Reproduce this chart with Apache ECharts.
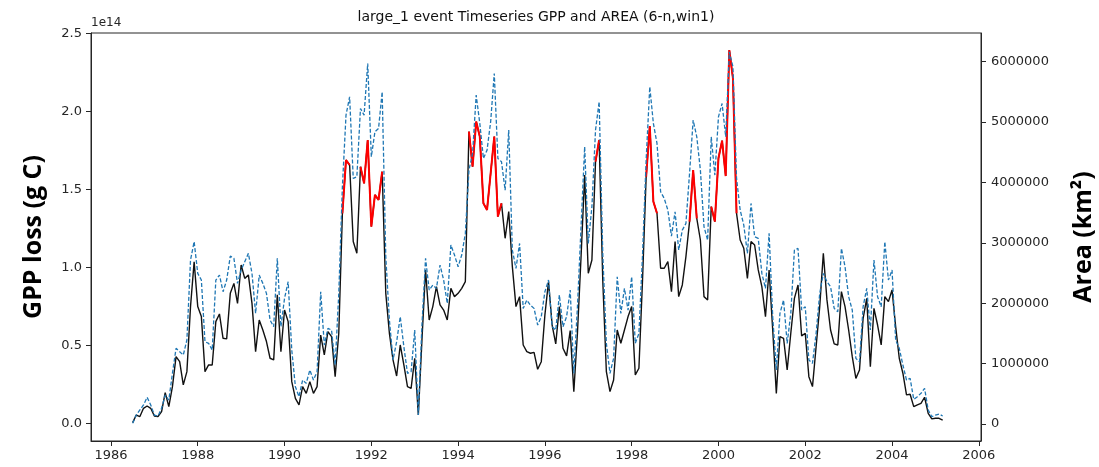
<!DOCTYPE html>
<html>
<head>
<meta charset="utf-8">
<script src="https://cdn.jsdelivr.net/npm/echarts@6/dist/echarts.min.js"></script>
<style>
html,body{margin:0;padding:0;background:#fff;}
#c{width:1099px;height:467px;}
</style>
</head>
<body>
<div id="c"></div>
<script>
// Monthly series starting July 1986 (one value per month)
const startYear = 1986;
const startMonth = 7;

// GPP loss, in units of 1e14 g C
const gpp = [
0.004,0.053,0.043,0.096,0.111,0.096,0.047,0.043,0.075,0.197,0.107,0.235,
0.427,0.395,0.246,0.331,0.748,1.036,0.748,0.684,0.331,0.374,0.374,0.652,
0.701,0.545,0.541,0.833,0.897,0.769,1.015,0.929,0.951,0.769,0.459,0.662,
0.598,0.524,0.417,0.406,0.823,0.459,0.726,0.652,0.267,0.160,0.118,0.235,
0.192,0.267,0.192,0.235,0.566,0.438,0.588,0.556,0.299,0.577,1.346,1.688,
1.656,1.165,1.090,1.645,1.538,1.816,1.261,1.464,1.432,1.613,0.833,0.577,
0.406,0.303,0.502,0.374,0.235,0.224,0.417,0.053,0.534,0.983,0.662,0.748,
0.876,0.759,0.726,0.662,0.865,0.812,0.833,0.865,0.908,1.870,1.645,1.934,
1.838,1.410,1.368,1.603,1.838,1.325,1.410,1.186,1.357,1.004,0.748,0.812,
0.502,0.459,0.449,0.455,0.346,0.395,0.694,0.908,0.630,0.509,0.748,0.481,
0.432,0.594,0.203,0.577,1.068,1.592,0.962,1.047,1.677,1.816,0.919,0.331,
0.203,0.278,0.598,0.513,0.598,0.684,0.748,0.310,0.353,0.919,1.581,1.906,
1.421,1.346,0.994,0.994,1.036,0.844,1.165,0.812,0.887,1.068,1.293,1.624,
1.314,1.175,0.812,0.791,1.389,1.293,1.699,1.812,1.585,2.393,2.212,1.346,
1.175,1.122,0.929,1.165,1.143,0.983,0.876,0.684,0.983,0.598,0.192,0.556,
0.545,0.342,0.577,0.801,0.887,0.560,0.577,0.299,0.235,0.491,0.748,1.090,
0.791,0.598,0.509,0.502,0.844,0.748,0.598,0.427,0.288,0.342,0.673,0.801,
0.363,0.737,0.630,0.502,0.812,0.780,0.855,0.620,0.417,0.321,0.182,0.186,
0.107,0.118,0.128,0.167,0.064,0.028,0.032,0.032,0.021
];

// Area, in units of 1e6 km2
const area = [
0.011,0.149,0.232,0.315,0.442,0.315,0.149,0.132,0.259,0.480,0.397,0.839,
1.253,1.198,1.142,1.391,2.715,3.019,2.494,2.384,1.363,1.336,1.225,2.384,
2.467,2.191,2.384,2.781,2.743,2.329,2.550,2.688,2.826,2.494,1.832,2.467,
2.329,2.163,1.722,1.611,2.743,1.611,2.081,2.357,1.225,0.618,0.453,0.728,
0.673,0.894,0.728,0.866,2.191,1.308,1.584,1.556,0.977,2.163,3.929,5.116,
5.419,4.067,4.095,5.226,5.116,5.971,4.426,4.840,4.895,5.502,2.770,1.722,
1.060,1.363,1.777,1.280,0.839,0.866,1.556,0.149,1.639,2.743,2.219,2.301,
2.246,2.632,2.384,1.998,2.964,2.798,2.605,2.798,3.157,4.205,4.481,5.447,
4.978,4.398,4.536,5.006,5.806,4.398,4.343,3.874,4.868,2.881,2.577,2.991,
1.915,2.053,1.970,1.915,1.639,1.777,2.191,2.384,1.611,1.556,2.136,1.611,
1.777,2.219,0.839,1.943,3.267,4.592,2.991,3.598,4.868,5.337,2.826,1.336,
0.839,1.087,2.439,1.832,2.246,1.887,2.439,1.336,1.501,2.798,4.371,5.585,
4.978,4.647,3.847,3.736,3.543,3.113,3.515,2.881,3.212,3.322,4.150,5.033,
4.757,4.205,3.267,3.046,4.757,4.123,5.088,5.309,4.757,6.164,5.916,4.067,
3.543,3.295,2.826,3.653,3.102,3.074,2.494,2.246,3.157,1.777,0.894,1.832,
2.053,1.336,1.832,2.881,2.908,1.887,1.943,1.060,1.004,1.501,2.163,2.494,
2.357,2.274,1.915,1.860,2.908,2.605,2.108,1.887,1.087,1.032,1.943,2.246,
1.556,2.715,2.108,1.943,3.019,2.384,2.550,1.391,1.253,0.977,0.728,0.756,
0.408,0.453,0.508,0.590,0.232,0.121,0.149,0.166,0.132
];

// Event periods (month index ranges, inclusive) drawn in red
const eventRanges = [[58,60],[63,69],[93,102],[128,129],[142,145],[154,156],[160,167]];

// Tick labels
const xTicks = [1986,1988,1990,1992,1994,1996,1998,2000,2002,2004,2006];
const gppTicks = [0,0.5,1.0,1.5,2.0,2.5];
const areaTicks = [0,1,2,3,4,5,6];

const titleText = 'large_1 event Timeseries GPP and AREA (6-n,win1)';
const leftName = 'GPP loss (g C)';
const rightName = 'Area (km\u00B2)';
const offsetText = '1e14';

function monthX(i){ return startYear + (startMonth - 1)/12 + i/12; }
function inEvent(i){ return eventRanges.some(r => i >= r[0] && i <= r[1]); }

const gppData = gpp.map((v,i)=>[monthX(i), v]);
const redData = gpp.map((v,i)=>[monthX(i), inEvent(i) ? v : null]);
const areaData = area.map((v,i)=>[monthX(i), v]);

const axisColor = '#262626';
const tickFont = {fontFamily:'DejaVu Sans', fontSize:13, color:'#262626'};

const chart = echarts.init(document.getElementById('c'), null, {renderer:'canvas'});
chart.setOption({
  animation:false,
  backgroundColor:'#ffffff',
  grid:{left:91, right:118, top:33, bottom:26, show:true, borderColor:axisColor, borderWidth:1,
        backgroundColor:'transparent', containLabel:false, outerBoundsMode:'none'},
  graphic:[
    {type:'text', x:536, y:17, style:{text:titleText, fill:'#111', font:'14px "DejaVu Sans"', textAlign:'center', textVerticalAlign:'middle'}},
    {type:'text', x:91, y:23, style:{text:offsetText, fill:'#262626', font:'12px "DejaVu Sans"', textAlign:'left', textVerticalAlign:'middle'}}
  ],
  xAxis:{
    type:'value', min:1985.54, max:2006.05,
    axisLine:{show:true, onZero:false, lineStyle:{color:axisColor, width:1}},
    axisTick:{show:true, customValues:xTicks, length:5, lineStyle:{color:axisColor}},
    axisLabel:Object.assign({customValues:xTicks, margin:8, formatter:v=>String(v)}, tickFont),
    splitLine:{show:false}
  },
  yAxis:[
    {
      type:'value', min:-0.1135, max:2.502, position:'left',
      axisLine:{show:true, onZero:false, lineStyle:{color:axisColor, width:1}},
      axisTick:{show:true, customValues:gppTicks, length:5, lineStyle:{color:axisColor}},
      axisLabel:Object.assign({customValues:gppTicks, margin:9, formatter:v=>v.toFixed(1)}, tickFont),
      splitLine:{show:false},
      name:leftName, nameLocation:'middle', nameGap:45, nameRotate:90,
      nameTextStyle:{fontFamily:'Open Sans', fontWeight:'bold', fontSize:25, color:'#000'}
    },
    {
      type:'value', min:-0.2816, max:6.476, position:'right',
      axisLine:{show:true, onZero:false, lineStyle:{color:axisColor, width:1}},
      axisTick:{show:true, customValues:areaTicks, length:5, lineStyle:{color:axisColor}},
      axisLabel:Object.assign({customValues:areaTicks, margin:10, formatter:v=>String(Math.round(v*1000000))}, tickFont),
      splitLine:{show:false},
      name:rightName, nameLocation:'middle', nameGap:90, nameRotate:90,
      nameTextStyle:{fontFamily:'Open Sans', fontWeight:'bold', fontSize:25, color:'#000'}
    }
  ],
  series:[
    {type:'line', name:'GPP', yAxisIndex:0, data:gppData, showSymbol:false, symbol:'none',
     lineStyle:{color:'#111111', width:1.4}, z:2},
    {type:'line', name:'event', yAxisIndex:0, data:redData, showSymbol:false, symbol:'none', connectNulls:false,
     lineStyle:{color:'#ff0000', width:2}, z:3},
    {type:'line', name:'Area', yAxisIndex:1, data:areaData, showSymbol:false, symbol:'none',
     lineStyle:{color:'#1f77b4', width:1.3, type:[4,2]}, z:4}
  ]
});
</script>
</body>
</html>
